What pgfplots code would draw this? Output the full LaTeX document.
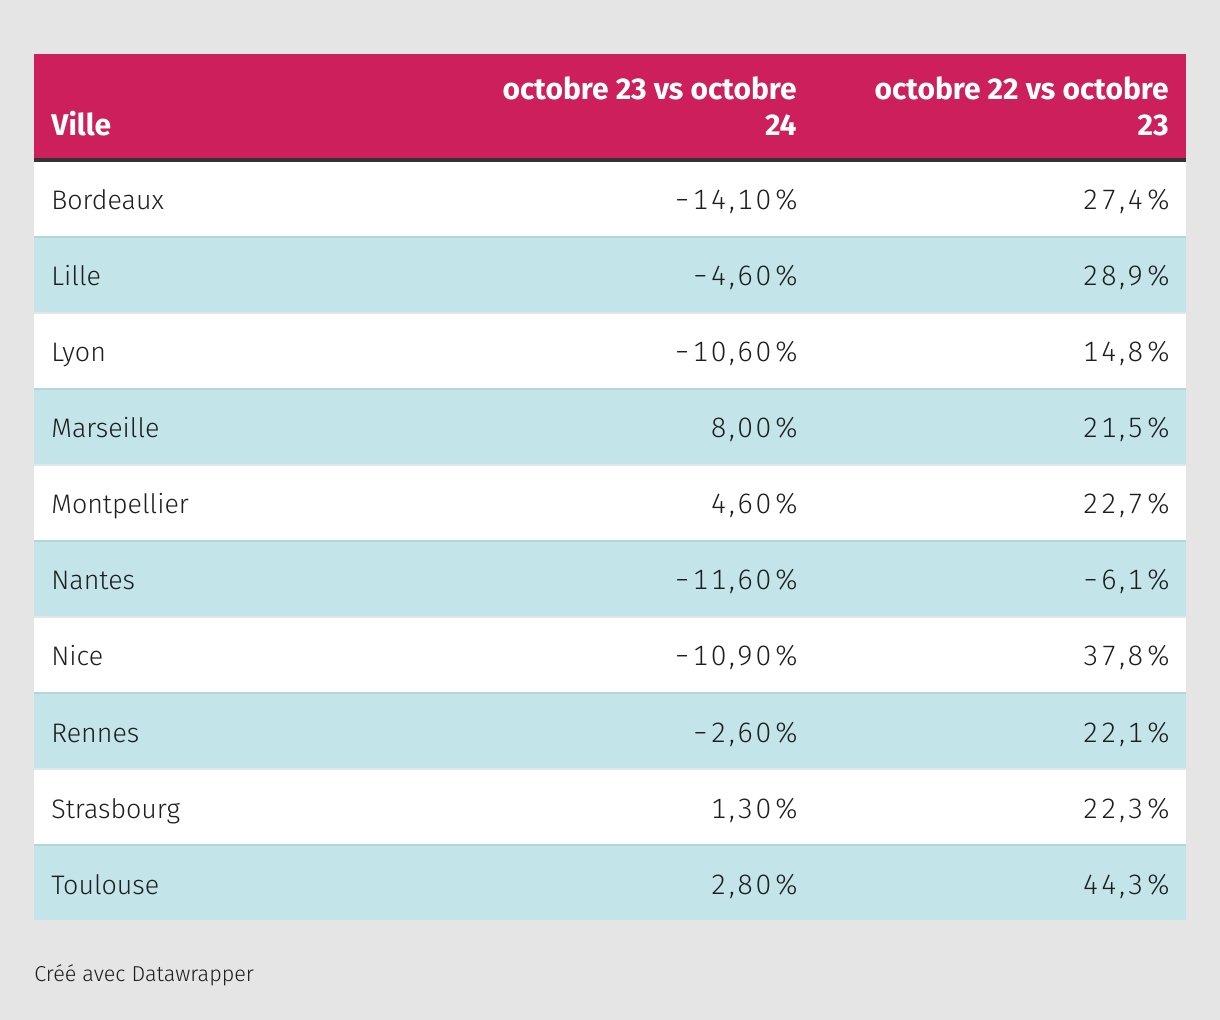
\documentclass[border=0pt]{standalone}
\usepackage{pgfplots}
\pgfplotsset{compat=1.18}
\usepackage{pgfplotstable}
\usepackage{fontspec}
\setmainfont{Fira Sans}[UprightFont=* Light, BoldFont=* Bold]
\newfontfamily\numfont{Fira Sans Light}[Numbers=Monospaced, LetterSpace=9]
\definecolor{bg}{HTML}{E5E5E5}
\definecolor{head}{HTML}{CD1F5B}
\definecolor{rowblue}{HTML}{C3E5E9}
\definecolor{sepblue}{HTML}{B3D6DB}
\definecolor{sepgray}{HTML}{E2E6E7}
\definecolor{txt}{HTML}{1E1E1E}
\newcommand\pctfmt[2]{%
  \edef\pv{#1}%
  \numfont\fontsize{14}{16}\selectfont
  \ifdim\pv pt<0pt \char"2212\relax\fi
  \pgfmathparse{abs(\pv)}%
  \pgfmathprintnumber[fixed,fixed zerofill,precision=#2,use comma,assume math mode=true]{\pgfmathresult}\%\kern-1.2pt}
\pgfplotstableread{
row name
0 Bordeaux
1 Lille
2 Lyon
3 Marseille
4 Montpellier
5 Nantes
6 Nice
7 Rennes
8 Strasbourg
9 Toulouse
}\names
\pgfplotstableread{
row a b
0 -14.10 27.4
1 -4.60 28.9
2 -10.60 14.8
3 8.00 21.5
4 4.60 22.7
5 -11.60 -6.1
6 -10.90 37.8
7 -2.60 22.1
8 1.30 22.3
9 2.80 44.3
}\vals
\begin{document}
\begin{tikzpicture}
\begin{axis}[
  scale only axis, width=610pt, height=510pt,
  xmin=0, xmax=1220, ymin=0, ymax=1020, y dir=reverse,
  hide axis, clip=false,
  every node near coord/.append style={inner sep=0pt, text=txt, font=\fontsize{13.4}{16}\selectfont},
]
\fill[bg] (axis cs:0,0) rectangle (axis cs:1220,1020);
\fill[head] (axis cs:34,54) rectangle (axis cs:1186,158);
\fill[black!80] (axis cs:34,158) rectangle (axis cs:1186,162);
\fill[white] (axis cs:34,162) rectangle (axis cs:1186,920);
% blue rows
\fill[rowblue] (axis cs:34,238) rectangle (axis cs:1186,312);
\fill[rowblue] (axis cs:34,390) rectangle (axis cs:1186,464);
\fill[rowblue] (axis cs:34,542) rectangle (axis cs:1186,616);
\fill[rowblue] (axis cs:34,694) rectangle (axis cs:1186,768);
\fill[rowblue] (axis cs:34,846) rectangle (axis cs:1186,920);
% separators
\fill[sepblue] (axis cs:34,236) rectangle (axis cs:1186,238);
\fill[sepblue] (axis cs:34,388) rectangle (axis cs:1186,390);
\fill[sepblue] (axis cs:34,540) rectangle (axis cs:1186,542);
\fill[sepblue] (axis cs:34,692) rectangle (axis cs:1186,694);
\fill[sepblue] (axis cs:34,844) rectangle (axis cs:1186,846);
\fill[sepgray] (axis cs:34,312) rectangle (axis cs:1186,314);
\fill[sepgray] (axis cs:34,464) rectangle (axis cs:1186,466);
\fill[sepgray] (axis cs:34,616) rectangle (axis cs:1186,618);
\fill[sepgray] (axis cs:34,768) rectangle (axis cs:1186,770);
% header text
\node[anchor=base west, inner sep=0pt, text=white, font=\bfseries\fontsize{15}{16}\selectfont] at (axis cs:51,136) {Ville};
\node[anchor=base east, inner sep=0pt, text=white, font=\bfseries\fontsize{15}{16}\selectfont] at (axis cs:797,100) {octobre 23 vs octobre};
\node[anchor=base east, inner sep=0pt, text=white, font=\bfseries\fontsize{15}{16}\selectfont] at (axis cs:797,136) {24};
\node[anchor=base east, inner sep=0pt, text=white, font=\bfseries\fontsize{15}{16}\selectfont] at (axis cs:1169,100) {octobre 22 vs octobre};
\node[anchor=base east, inner sep=0pt, text=white, font=\bfseries\fontsize{15}{16}\selectfont] at (axis cs:1169,136) {23};
% names
\addplot[draw=none, mark=none, nodes near coords, point meta=explicit symbolic,
  nodes near coords align={anchor=base west}]
  table[x expr=51, y expr=210+76*\thisrow{row}, meta=name] {\names};
% column 2
\addplot[draw=none, mark=none, point meta=explicit symbolic,
  nodes near coords={\pctfmt{\pgfplotspointmeta}{2}},
  nodes near coords align={anchor=base east}]
  table[x expr=797, y expr=210+76*\thisrow{row}, meta=a] {\vals};
% column 3
\addplot[draw=none, mark=none, point meta=explicit symbolic,
  nodes near coords={\pctfmt{\pgfplotspointmeta}{1}},
  nodes near coords align={anchor=base east}]
  table[x expr=1169, y expr=210+76*\thisrow{row}, meta=b] {\vals};
% footer
\node[anchor=base west, inner sep=0pt, text=txt, font=\fontsize{10.8}{12}\selectfont] at (axis cs:34,981) {Créé avec Datawrapper};
\end{axis}
\end{tikzpicture}
\end{document}
